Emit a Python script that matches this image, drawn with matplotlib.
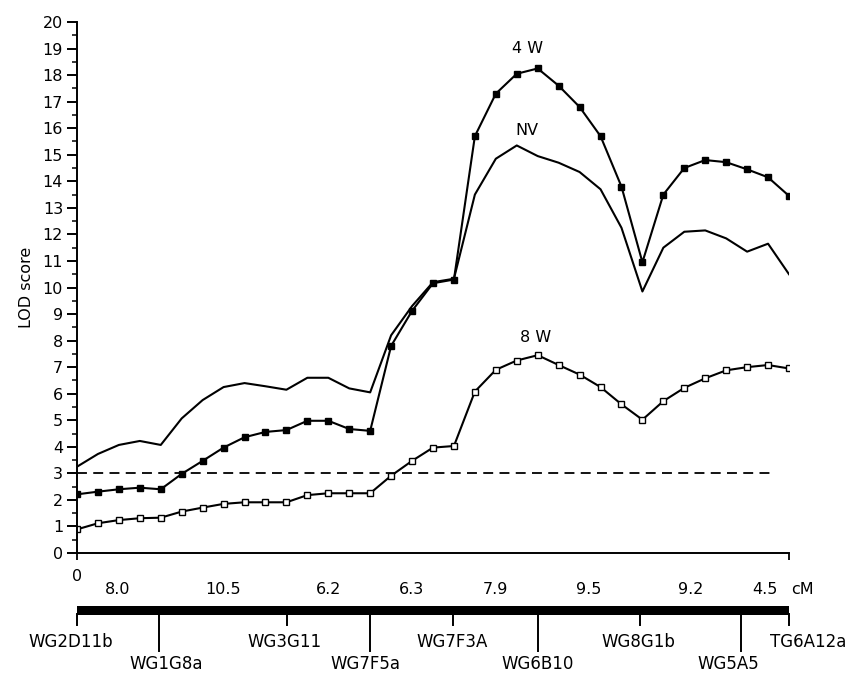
import matplotlib
matplotlib.use("Agg")
import matplotlib.pyplot as plt
import numpy as np

# ─── Data ─────────────────────────────────────────────────────────────────────
# LOD scores at 35 evenly spaced scan points along the map
lod_4w = [2.21, 2.31, 2.40, 2.46, 2.40, 2.98, 3.47, 3.97, 4.36, 4.56,
          4.63, 4.98, 4.98, 4.67, 4.60, 7.80, 9.12, 10.16, 10.30, 15.70,
          17.30, 18.05, 18.25, 17.60, 16.80, 15.70, 13.80, 10.95, 13.50, 14.50,
          14.80, 14.72, 14.45, 14.15, 13.45]
lod_nv = [3.25, 3.73, 4.07, 4.22, 4.07, 5.07, 5.76, 6.25, 6.40, 6.28,
          6.15, 6.60, 6.60, 6.20, 6.05, 8.20, 9.30, 10.20, 10.33, 13.50,
          14.85, 15.35, 14.95, 14.70, 14.35, 13.70, 12.25, 9.85, 11.50, 12.10,
          12.15, 11.85, 11.35, 11.65, 10.50]
lod_8w = [0.89, 1.12, 1.24, 1.31, 1.33, 1.56, 1.71, 1.85, 1.91, 1.91,
          1.91, 2.18, 2.25, 2.25, 2.25, 2.91, 3.47, 3.97, 4.03, 6.08,
          6.90, 7.25, 7.45, 7.08, 6.72, 6.25, 5.60, 5.02, 5.72, 6.22,
          6.58, 6.88, 7.00, 7.08, 6.95]
threshold = 3.0

markers = ["WG2D11b", "WG1G8a", "WG3G11", "WG7F5a", "WG7F3A",
           "WG6B10", "WG8G1b", "WG5A5", "TG6A12a"]
marker_pos = [0, 3.92, 10.03, 13.99, 17.96, 22.0, 26.9, 31.7, 34]
intervals = ["8.0", "10.5", "6.2", "6.3", "7.9", "9.5", "9.2", "4.5"]

# ─── Layout (pixels of an 853x675 canvas) ─────────────────────────────────────
W, H = 853, 675
AX_L, AX_R, AX_Y0, AX_Y20 = 77, 789, 553, 22
FS = 11.5

plt.rcParams["font.family"] = "DejaVu Sans"

fig = plt.figure(figsize=(W / 100, H / 100), dpi=100)
ax = fig.add_axes([AX_L / W, (H - AX_Y0) / H,
                   (AX_R - AX_L) / W, (AX_Y0 - AX_Y20) / H])

x = np.arange(len(lod_4w))
ax.plot(x, lod_nv, color="black", lw=1.5)
ax.plot(x, lod_4w, color="black", lw=1.5, marker="s", ms=4.2,
        mfc="black", mec="black")
ax.plot(x, lod_8w, color="black", lw=1.5, marker="s", ms=4.0,
        mfc="white", mec="black", mew=1.0)
ax.plot([0, 33.2], [threshold, threshold], color="black", lw=1.3,
        ls=(0, (5.5, 3.5)))

ax.text(21.5, 19.0, "4 W", ha="center", va="center", fontsize=FS)
ax.text(21.5, 15.9, "NV", ha="center", va="center", fontsize=FS)
ax.text(21.9, 8.1, "8 W", ha="center", va="center", fontsize=FS)

ax.set_xlim(0, 34)
ax.set_ylim(0, 20)
ax.set_yticks(range(0, 21))
ax.set_yticks(np.arange(0.5, 20, 1.0), minor=True)
ax.tick_params(axis="y", which="major", direction="out", length=7,
               width=1.4, labelsize=FS, pad=3)
ax.tick_params(axis="y", which="minor", direction="out", length=3.5, width=1.1)
ax.set_xticks([0, 34])
ax.set_xticklabels([])
ax.tick_params(axis="x", direction="out", length=5, width=1.3)
for side in ("top", "right"):
    ax.spines[side].set_visible(False)
for side in ("left", "bottom"):
    ax.spines[side].set_linewidth(1.4)
ax.set_ylabel("LOD score", fontsize=FS, labelpad=6)

# ─── Map strip below the plot (y in pixel units, top = 0) ─────────────────────
bx = fig.add_axes([AX_L / W, 0, (AX_R - AX_L) / W, (H - AX_Y0) / H])
bx.set_xlim(0, 34)
bx.set_ylim(H, AX_Y0)
bx.axis("off")

# interval distances (cM)
mids = [(a + b) / 2 for a, b in zip(marker_pos[:-1], marker_pos[1:])]
for m, lab in zip(mids, intervals):
    bx.text(m, 590, lab, ha="center", va="center", fontsize=FS, clip_on=False)
bx.text(0, 577, "0", ha="center", va="center", fontsize=FS, clip_on=False)
bx.text(mids[-1] + 1.25, 590, "cM", ha="left", va="center", fontsize=FS,
        clip_on=False)

# chromosome bar
bx.barh(610.5, 34.24, left=-0.24, height=9, color="black")

# marker ticks and names, alternating rows
label_shift = [-0.29, 0.35, -0.1, -0.2, -0.05, 0.0, -0.1, -0.6, 0.9]
for i, (name, p) in enumerate(zip(markers, marker_pos)):
    low = i % 2 == 1
    bx.plot([p, p], [614, 651 if low else 625], color="black", lw=1.4,
            clip_on=False)
    bx.text(p + label_shift[i], 664 if low else 642, name, ha="center",
            va="center", fontsize=12, clip_on=False)

fig.savefig("out.png", dpi=100)
